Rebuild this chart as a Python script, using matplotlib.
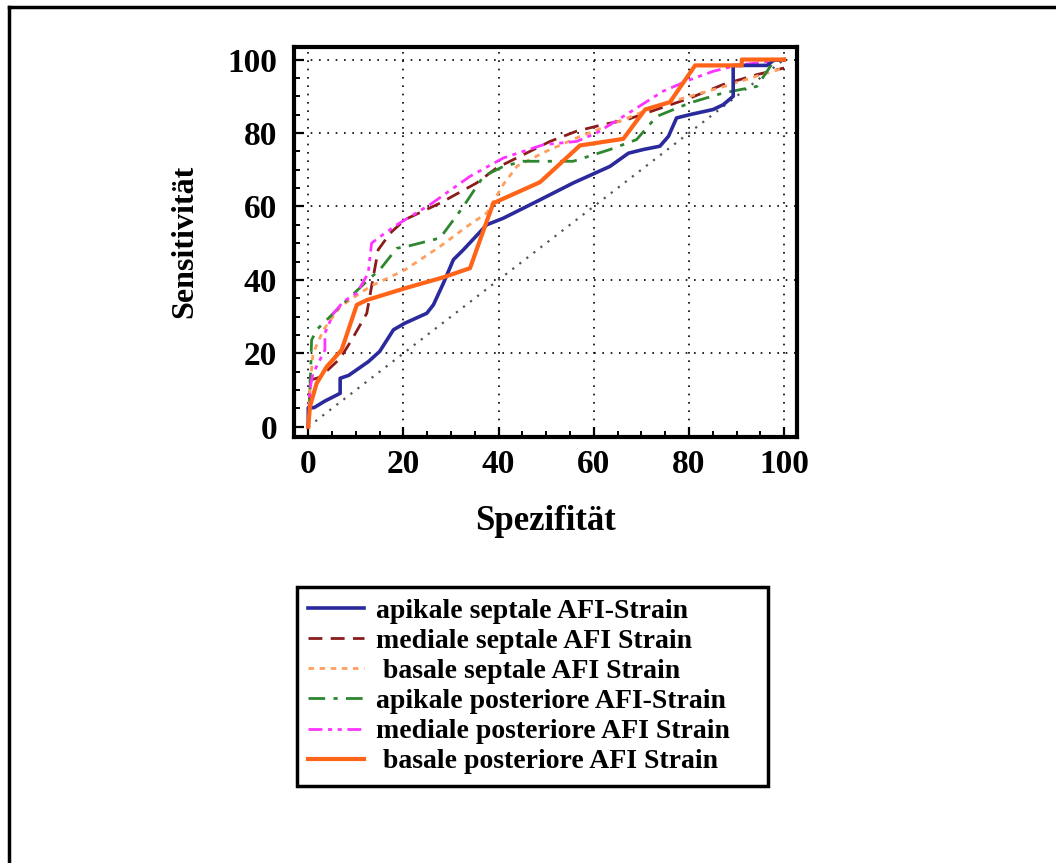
import matplotlib.pyplot as plt
from matplotlib.lines import Line2D
from matplotlib.ticker import MultipleLocator

# ROC curves (Spezifität on x, Sensitivität on y)
apik_sept_x = [0, 0, 1.2, 3.5, 6.7, 6.7, 8.5, 12.6, 15, 17.9, 20.3, 24.9, 26.3, 28.4, 30.5, 32.6,
               37.5, 41, 48.7, 55.7, 63.4, 67.3, 70.4, 73.9, 75.7, 77.4, 80.2, 85.1, 87.2, 89.3,
               89.3, 96.4, 97.8, 100]
apik_sept_y = [0, 5.2, 5.2, 7, 9.1, 13.2, 14, 17.7, 20.5, 26.4, 28.2, 30.9, 33.2, 39.1, 45.5, 48.2,
               55, 56.8, 61.8, 66.4, 70.9, 74.5, 75.5, 76.4, 79.1, 84.1, 85, 86.4, 87.7, 90,
               98.4, 98.4, 99.8, 100]

med_sept_x = [0, 0.4, 2.5, 6.7, 9.1, 12.3, 13.3, 14.7, 17.2, 20.3, 27.7, 35.4, 39.6, 45.2, 50.8,
              56.4, 62, 66.9, 73.2, 80.2, 87.2, 94.3, 100]
med_sept_y = [0, 12.7, 13.5, 18.6, 23.6, 30.9, 38.2, 48.2, 52.7, 56.4, 60.9, 66.4, 70.5, 74.1, 77.7,
              80.5, 82.3, 83.6, 86.4, 89.5, 93.2, 95.9, 97.7]

bas_sept_x = [0, 0.4, 1, 3.2, 6.7, 13, 20.3, 27.7, 33.3, 37.5, 41, 43.9, 50, 57, 66.2, 73.2,
              80.2, 87, 94.3, 100]
bas_sept_y = [0, 11.8, 20, 26.4, 32.7, 38.2, 42.7, 49.1, 54.5, 58.2, 66, 71, 75, 79, 83.6, 87.3,
              90, 92.5, 95.5, 97.7]

apik_post_x = [0, 0.3, 0.7, 1.75, 6.7, 13, 15, 18.6, 20.7, 27.7, 32.6, 36.8, 41, 45.2, 55.7, 63.4,
               69, 73.2, 80.2, 87.2, 94.3, 97.8, 100]
apik_post_y = [0, 7.3, 23.6, 26.4, 32.7, 40.5, 42.7, 48.6, 49.1, 51.4, 60, 68.2, 70.9, 72.3, 72.3,
               75.5, 78.2, 84.5, 88.2, 90.9, 92.7, 99.5, 100]

med_post_x = [0, 0.3, 1, 3.5, 3.5, 5.3, 7.4, 10.2, 12.6, 13.3, 14.7, 18.6, 25.6, 34, 41, 49.4, 56.4,
              60.6, 66.2, 74.6, 80.2, 85.1, 90, 100]
med_post_y = [0, 10, 14.5, 20.9, 25.5, 30.9, 34.1, 36.4, 41.8, 50, 51.4, 55, 60.5, 68.2, 73.2, 76.8,
              77.7, 80, 84.5, 91.4, 94.5, 96.8, 98.4, 100]

bas_post_x = [0, 0.35, 1.75, 3.9, 7, 10.2, 12.3, 20.3, 28.4, 34, 37.1, 38.9, 48.7, 57.1, 66.2, 70.8,
              76, 81.3, 91.1, 91.1, 100]
bas_post_y = [0, 5.5, 11.8, 16.4, 20.9, 33.2, 34.5, 37.7, 40.7, 43.2, 54.5, 60.9, 66.6, 76.6, 78.4,
              86.4, 88.4, 98.4, 98.4, 100, 100]

labels = ["apikale septale AFI-Strain", "mediale septale AFI Strain", " basale septale AFI Strain",
          "apikale posteriore AFI-Strain", "mediale posteriore AFI Strain", " basale posteriore AFI Strain"]

serif = ["Liberation Serif", "DejaVu Serif"]
plt.rcParams['font.family'] = serif
plt.rcParams['font.weight'] = 'bold'

fig = plt.figure(figsize=(10.56, 8.63), dpi=100)
ax = fig.add_axes([0.2784, 0.494, 0.4763, 0.4519])

# grid and reference diagonal
for v in [0, 20, 40, 60, 80, 100]:
    ax.axvline(v, color='k', lw=1.2, ls=(0, (1, 4)), zorder=1)
for v in [20, 40, 60, 80, 100]:
    ax.axhline(v, color='k', lw=1.2, ls=(0, (1, 4)), zorder=1)
ax.plot([0, 100], [0, 100], color='#555555', lw=1.6, ls=(0, (1, 3)), zorder=2)

ax.plot(apik_sept_x, apik_sept_y, color='#2a2a9c', lw=2.6, label=labels[0], zorder=5)
ax.plot(med_sept_x, med_sept_y, color='#8b1c1c', lw=2, ls=(0, (5, 3)), label=labels[1], zorder=4)
ax.plot(bas_sept_x, bas_sept_y, color='#ff9f5f', lw=2, ls=(0, (2, 2)), label=labels[2], zorder=4)
ax.plot(apik_post_x, apik_post_y, color='#2e862e', lw=2, ls=(0, (6, 3, 1.5, 3)), label=labels[3], zorder=4)
ax.plot(med_post_x, med_post_y, color='#ff33ff', lw=2, ls=(0, (5, 2, 1.5, 2, 1.5, 2)), label=labels[4], zorder=4)
ax.plot(bas_post_x, bas_post_y, color='#ff6418', lw=3, label=labels[5], zorder=6)

ax.set_xlim(-3, 102.7)
ax.set_ylim(-2.7, 103.5)
ax.xaxis.set_major_locator(MultipleLocator(20))
ax.yaxis.set_major_locator(MultipleLocator(20))
ax.xaxis.set_minor_locator(MultipleLocator(5))
ax.yaxis.set_minor_locator(MultipleLocator(5))
ax.tick_params(which='major', direction='in', length=7, width=1.6, labelsize=24, pad=9)
ax.tick_params(which='minor', direction='in', length=4.5, width=1.4)
ax.tick_params(axis='y', pad=12)
for s in ax.spines.values():
    s.set_linewidth(3)

ax.set_xlabel("Spezifität", fontsize=25, fontweight='bold', labelpad=18)
ax.set_ylabel("Sensitivität", fontsize=23, fontweight='bold', labelpad=20)

leg = ax.legend(loc='upper left', bbox_to_anchor=(0.2813, 0.0892, 0.446, 0.2306),
                bbox_transform=fig.transFigure, mode='expand', borderaxespad=0,
                prop={'family': serif, 'weight': 'bold', 'size': 20}, handlelength=2.0,
                handletextpad=0.45, labelspacing=0.17, borderpad=0.4, fancybox=False,
                framealpha=1)
leg.get_frame().set_edgecolor('k')
leg.get_frame().set_linewidth(2.5)

# outer frame (left and top edges visible)
fig.add_artist(Line2D([9 / 1056, 9 / 1056], [0, 1 - 7 / 863], transform=fig.transFigure, color='k', lw=2.5))
fig.add_artist(Line2D([9 / 1056, 1], [1 - 7 / 863, 1 - 7 / 863], transform=fig.transFigure, color='k', lw=2.5))

fig.savefig("out.png", dpi=100)
